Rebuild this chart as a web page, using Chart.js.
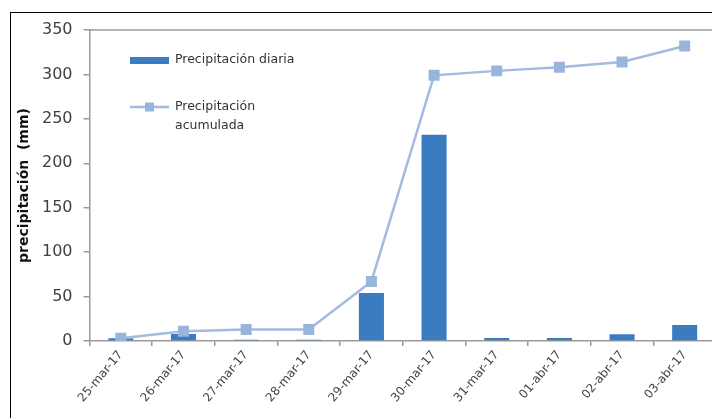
<!DOCTYPE html>
<html>
<head>
<meta charset="utf-8">
<script src="https://cdn.jsdelivr.net/npm/chart.js@4/dist/chart.umd.min.js"></script>
<style>
  html, body { margin: 0; padding: 0; background: #fff; overflow: hidden; width: 712px; height: 418px; }
  #wrap { position: relative; width: 712px; height: 418px; overflow: hidden; }
  #c { position: absolute; left: 0; top: 0; }
  #frame { position: absolute; left: 10px; top: 12px; width: 720px; height: 430px;
           border-left: 1.5px solid #000; border-top: 1.5px solid #000; pointer-events: none; }
</style>
</head>
<body>
<div id="wrap">
  <canvas id="c" width="716" height="418"></canvas>
  <div id="frame"></div>
</div>
<script>
const categories = ["25-mar-17","26-mar-17","27-mar-17","28-mar-17","29-mar-17","30-mar-17","31-mar-17","01-abr-17","02-abr-17","03-abr-17"];
const dailyValues = [3, 8, 1.5, 1.5, 54, 232, 3.5, 3.5, 7.5, 18];
const cumulativeValues = [3, 11, 13, 13, 67, 299, 304, 308, 314, 332];
const yTicks = [0, 50, 100, 150, 200, 250, 300, 350];
const seriesNames = ["Precipitación diaria", ["Precipitación", "acumulada"]];
const yTitle = "precipitación  (mm)";

const FONT = "'DejaVu Sans', 'Open Sans', sans-serif";

const frameLines = {
  id: 'frameLines',
  beforeDatasetsDraw(chart) {
    const {ctx, chartArea} = chart;
    ctx.save();
    ctx.strokeStyle = '#9a9a9a';
    ctx.lineWidth = 1.5;
    ctx.beginPath();
    ctx.moveTo(chartArea.left, chartArea.top);
    ctx.lineTo(chartArea.right + 2, chartArea.top);
    ctx.stroke();
    ctx.restore();
  }
};

const insideLegend = {
  id: 'insideLegend',
  afterDraw(chart) {
    const {ctx, chartArea} = chart;
    const x0 = 130;
    const ds = chart.data.datasets;
    ctx.save();
    ctx.font = "12.5px " + FONT;
    ctx.textBaseline = 'middle';
    // bar entry
    ctx.fillStyle = ds[0].backgroundColor;
    ctx.fillRect(x0, chartArea.top + 27, 39, 7);
    ctx.fillStyle = '#333';
    ctx.fillText(seriesNames[0], x0 + 45, chartArea.top + 30);
    // line entry
    const ly = chartArea.top + 77;
    ctx.strokeStyle = ds[1].borderColor;
    ctx.lineWidth = 2.5;
    ctx.beginPath();
    ctx.moveTo(x0, ly);
    ctx.lineTo(x0 + 39, ly);
    ctx.stroke();
    ctx.fillStyle = ds[1].pointBackgroundColor;
    ctx.fillRect(x0 + 15, ly - 4.5, 9, 9);
    ctx.fillStyle = '#333';
    ctx.fillText(seriesNames[1][0], x0 + 45, ly);
    ctx.fillText(seriesNames[1][1], x0 + 45, ly + 19);
    ctx.restore();
  }
};

new Chart(document.getElementById('c'), {
  data: {
    labels: categories,
    datasets: [
      {
        type: 'bar',
        label: seriesNames[0],
        data: dailyValues,
        backgroundColor: '#3b7cc0',
        barPercentage: 0.4,
        categoryPercentage: 1,
        order: 2
      },
      {
        type: 'line',
        label: seriesNames[1].join(' '),
        data: cumulativeValues,
        borderColor: '#a4badf',
        borderWidth: 2.5,
        pointStyle: 'rect',
        pointRadius: 6,
        pointBackgroundColor: '#98b5dc',
        pointBorderColor: '#98b5dc',
        tension: 0,
        order: 1
      }
    ]
  },
  options: {
    responsive: false,
    animation: false,
    layout: { autoPadding: false, padding: { left: 0, top: 30, right: 0, bottom: 0 } },
    plugins: { legend: { display: false }, tooltip: { enabled: false } },
    scales: {
      x: {
        offset: true,
        grid: { display: true, drawOnChartArea: false, offset: true, tickLength: 5, color: '#9a9a9a', lineWidth: 1.5 },
        border: { color: '#9a9a9a', width: 1.5 },
        ticks: { maxRotation: 50, minRotation: 50, color: '#444', font: { family: FONT, size: 12 }, padding: 2 },
        afterFit(scale) { scale.height = 77; scale.paddingLeft = 0; scale.paddingRight = 0; }
      },
      y: {
        min: 0, max: 350,
        afterBuildTicks(scale) { scale.ticks = yTicks.map(v => ({ value: v })); },
        grid: { display: true, drawOnChartArea: false, tickLength: 6, color: '#9a9a9a', lineWidth: 1.5 },
        border: { color: '#9a9a9a', width: 1.5 },
        ticks: { color: '#404040', font: { family: FONT, size: 16 }, padding: 11 },
        title: { display: true, text: yTitle, color: '#111', font: { family: FONT, size: 14, weight: 'bold' }, padding: { top: 16, bottom: 0 } },
        afterFit(scale) { scale.width = 89.5; scale.paddingTop = 0; scale.paddingBottom = 0; }
      }
    }
  },
  plugins: [frameLines, insideLegend]
});
</script>
</body>
</html>
